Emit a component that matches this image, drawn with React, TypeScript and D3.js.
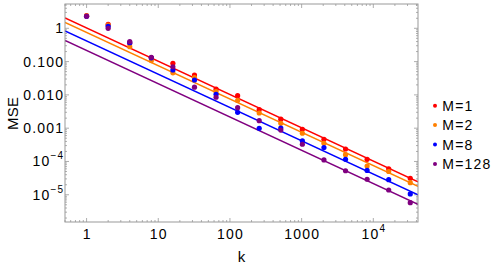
import * as d3 from 'd3'

// k values: powers of two, 1 .. 32768
const ks = d3.range(16).map(i => 2 ** i)

const seriesNames = ['M=1', 'M=2', 'M=8', 'M=128']
const seriesColors = ['rgb(255,0,0)', 'rgb(255,128,0)', 'rgb(0,0,255)', 'rgb(128,0,128)']

// MSE, one array per M
const mseM1 = [2.4, 1.32, 0.355, 0.13, 0.089, 0.0396, 0.0148, 0.00946, 0.0036, 0.00186, 0.00093, 0.000464, 0.000237, 0.000116, 6.04e-5, 3.13e-5]
const mseM2 = [2.35, 1.25, 0.28, 0.107, 0.046, 0.033, 0.0126, 0.0068, 0.00286, 0.0014, 0.000703, 0.000352, 0.00016, 7.3e-5, 5.0e-5, 2.31e-5]
const mseM8 = [2.3, 1.15, 0.37, 0.13, 0.056, 0.028, 0.0104, 0.003, 0.00099, 0.00101, 0.000413, 0.000263, 0.000116, 5.37e-5, 2.84e-5, 1.06e-5]
const mseM128 = [2.3, 1.0, 0.4, 0.135, 0.07, 0.017, 0.0085, 0.00413, 0.00168, 0.00088, 0.000329, 0.000111, 5.26e-5, 2.92e-5, 1.39e-5, 5.8e-6]
const mseSeries = [mseM1, mseM2, mseM8, mseM128]

// fitted lines MSE = c / k
const fitCoefficients = [1.02, 0.75, 0.42, 0.215]

const xTicks = [1, 10, 100, 1000, 10000]
const xTickLabels: [string, string?][] = [['1'], ['10'], ['100'], ['1000'], ['10', '4']]
const yTicks = [1, 0.1, 0.01, 0.001, 1e-4, 1e-5]
const yTickLabels: [string, string?][] = [['1'], ['0.100'], ['0.010'], ['0.001'], ['10', '\u22124'], ['10', '\u22125']]

const width = 498
const height = 266
const left = 65
const right = 418
const top = 4
const bottom = 222

const font = 'Liberation Sans, Arial, sans-serif'
const frameColor = '#999'
const spacing = 1.2

function minorTicks(domain: [number, number]) {
  const out: number[] = []
  for (let e = Math.floor(Math.log10(domain[0])); e <= Math.ceil(Math.log10(domain[1])); e++) {
    for (let m = 1; m < 10; m++) {
      const v = m * 10 ** e
      if (v >= domain[0] && v <= domain[1]) out.push(v)
    }
  }
  return out
}

function Label({ parts, x, y, anchor }: { parts: [string, string?]; x: number; y: number; anchor: string }) {
  return (
    <text x={x} y={y} textAnchor={anchor} dominantBaseline="central" fontFamily={font} fontSize={14}
      letterSpacing={spacing} fill="#000">
      {parts[0]}
      {parts[1] && (
        <tspan fontSize={10} dy={-6}>{parts[1]}</tspan>
      )}
    </text>
  )
}

export default function App() {
  const xDomain: [number, number] = [0.5, 42000]
  const yDomain: [number, number] = [1.52e-6, 5.37]
  const x = d3.scaleLog().domain(xDomain).range([left, right])
  const y = d3.scaleLog().domain(yDomain).range([bottom, top])

  const xMinor = minorTicks(xDomain)
  const yMinor = minorTicks(yDomain)

  return (
    <svg width={width} height={height} style={{ position: 'absolute', left: 0, top: 0 }}>
      <defs>
        <clipPath id="plot">
          <rect x={left} y={top} width={right - left} height={bottom - top} />
        </clipPath>
      </defs>
      <rect width={width} height={height} fill="#fff" />

      {/* ticks on all four sides */}
      <g stroke={frameColor} strokeWidth={0.8}>
        {xMinor.map(v => {
          const len = xTicks.includes(v) ? 4 : 2
          return (
            <g key={'x' + v}>
              <line x1={x(v)} x2={x(v)} y1={bottom} y2={bottom - len} />
              <line x1={x(v)} x2={x(v)} y1={top} y2={top + len} />
            </g>
          )
        })}
        {yMinor.map(v => {
          const major = yTicks.some(t => Math.abs(t - v) / t < 1e-9)
          const len = major ? 4 : 2
          return (
            <g key={'y' + v}>
              <line x1={left} x2={left + len} y1={y(v)} y2={y(v)} />
              <line x1={right} x2={right - len} y1={y(v)} y2={y(v)} />
            </g>
          )
        })}
      </g>

      <g clipPath="url(#plot)">
        {fitCoefficients.map((c, i) => {
          const pts = xDomain.map(k => [x(k), y(c / k)] as [number, number])
          return (
            <path key={i} d={d3.line()(pts) ?? ''} stroke={seriesColors[i]} strokeWidth={1.5} fill="none" />
          )
        })}
        {mseSeries.map((vals, i) => (
          <g key={i} fill={seriesColors[i]}>
            {vals.map((v, j) => (
              <circle key={j} cx={x(ks[j])} cy={y(v)} r={2.6} />
            ))}
          </g>
        ))}
      </g>

      <rect x={left} y={top} width={right - left} height={bottom - top} fill="none" stroke={frameColor} strokeWidth={1} />

      {xTicks.map((v, i) => (
        <Label key={v} parts={xTickLabels[i]} x={x(v) + spacing / 2} y={bottom + 12} anchor="middle" />
      ))}
      {yTicks.map((v, i) => (
        <Label key={v} parts={yTickLabels[i]} x={left - 2 + spacing} y={y(v)} anchor="end" />
      ))}

      <text x={241.5} y={256} textAnchor="middle" dominantBaseline="central" fontFamily={font} fontSize={15}>k</text>
      <text transform="translate(12.5,113.3) rotate(-90)" textAnchor="middle" dominantBaseline="central"
        fontFamily={font} fontSize={15} letterSpacing={0.3}>MSE</text>

      {seriesNames.map((name, i) => (
        <g key={name} transform={`translate(435,${105.7 + i * 19.4})`}>
          <circle r={2} fill={seriesColors[i]} />
          <text x={7.3} dominantBaseline="central" fontFamily={font} fontSize={14} letterSpacing={spacing}>{name}</text>
        </g>
      ))}
    </svg>
  )
}
